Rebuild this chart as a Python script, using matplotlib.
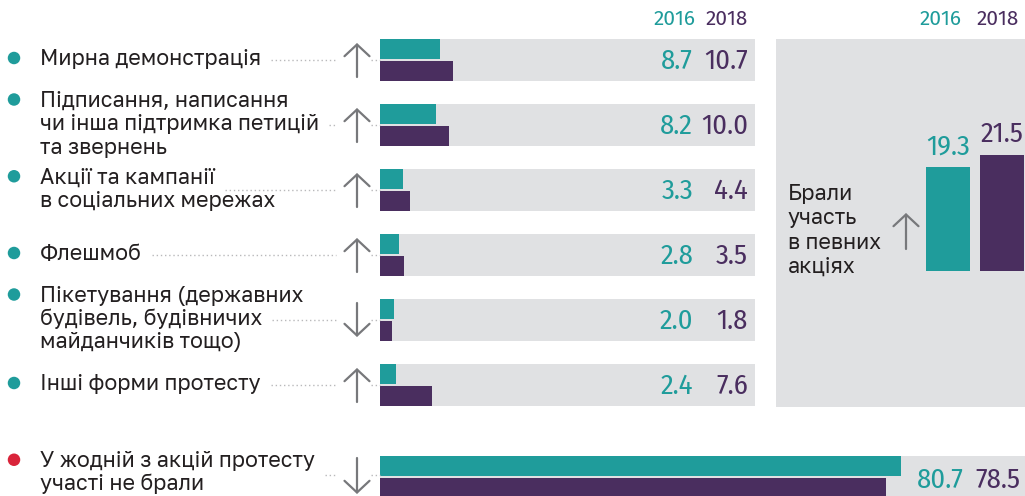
import matplotlib
matplotlib.use("Agg")
import matplotlib.pyplot as plt
from matplotlib.patches import FancyArrowPatch, Ellipse
from matplotlib.lines import Line2D

# ---- data -------------------------------------------------------------
years = ["2016", "2018"]
forms = [
    "Мирна демонстрація",
    "Підписання, написання\nчи інша підтримка петицій\nта звернень",
    "Акції та кампанії\nв соціальних мережах",
    "Флешмоб",
    "Пікетування (державних\nбудівель, будівничих\nмайданчиків тощо)",
    "Інші форми протесту",
]
share_2016 = [8.7, 8.2, 3.3, 2.8, 2.0, 2.4]
share_2018 = [10.7, 10.0, 4.4, 3.5, 1.8, 7.6]
trend = ["up", "up", "up", "up", "down", "up"]

none_label = "У жодній з акцій протесту\nучасті не брали"
none_2016 = [80.7]
none_2018 = [78.5]
none_trend = "down"

any_label = "Брали\nучасть\nв певних\nакціях"
any_values = [19.3, 21.5]
any_trend = "up"

# ---- style ------------------------------------------------------------
W, H, DPI = 1025, 496, 100
TEAL = "#1f9c9b"
PURPLE = "#4a2e5f"
BG = "#e0e1e3"
INK = "#231f20"
ARROW = "#77787b"
DOTS = "#b9b9bb"
RED = "#d9243a"

LABEL_FONT = dict(family=["Golos Text", "DejaVu Sans"], size=15.4, weight="medium", color=INK)
NUM_FONT = dict(family=["Fira Sans Condensed", "DejaVu Sans"], size=20.5)
YEAR_FONT = dict(family=["Fira Sans", "DejaVu Sans"], size=15)

fig = plt.figure(figsize=(W / DPI, H / DPI), dpi=DPI)
fig.patch.set_facecolor("white")


def fx(x):
    return x / W


def fy(y):
    return 1 - y / H


def px_axes(left, top, right, bottom):
    return fig.add_axes([fx(left), fy(bottom), (right - left) / W, (bottom - top) / H])


def arrow(x, yc, direction, half=17):
    y0, y1 = (yc + half, yc - half) if direction == "up" else (yc - half, yc + half)
    fig.add_artist(FancyArrowPatch(
        (fx(x), fy(y0)), (fx(x), fy(y1)), transform=fig.transFigure,
        arrowstyle="->,head_length=0.42,head_width=0.45", mutation_scale=20,
        color=ARROW, lw=1.6, shrinkA=0, shrinkB=0))


def leader(x0, y, gap=(336, 371), x_end=380):
    for a, b in ((x0, gap[0]), (gap[1], x_end)):
        if b > a:
            fig.add_artist(Line2D([fx(a), fx(b)], [fy(y), fy(y)], transform=fig.transFigure,
                                  color=DOTS, lw=1.0, linestyle=(0, (1, 2))))


def label_block(text, yc, bullet_color):
    lines = text.split("\n")
    n = len(lines)
    pitch = 23.5
    objs = []
    for k, line in enumerate(lines):
        base = yc - 2 + 7 + (k - (n - 1) / 2) * pitch
        objs.append(fig.text(fx(40), fy(base), line, ha="left", va="baseline", **LABEL_FONT))
    first_center = yc - 2 - (n - 1) / 2 * pitch
    fig.add_artist(Ellipse((fx(14), fy(first_center)), 12.5 / W, 12.5 / H,
                           transform=fig.transFigure, color=bullet_color, ec="none"))
    return objs


# ---- upper panel: forms of protest -------------------------------------
ROW0, PITCH = 60, 65
ax = px_axes(380, ROW0 - PITCH / 2, 755, ROW0 + PITCH * 5.5)
xmax = 375 / 6.85
ax.set_xlim(0, xmax)
ax.set_ylim(5.5, -0.5)
ax.axis("off")
rows = list(range(len(forms)))
bh = 0.308
ax.barh(rows, [xmax] * len(rows), height=0.646, color=BG, lw=0)
ax.barh([r - 0.169 for r in rows], share_2016, height=bh, color=TEAL, lw=0)
ax.barh([r + 0.169 for r in rows], share_2018, height=bh, color=PURPLE, lw=0)

leader_rows = []
dot_line_idx = [0, 1, 0, 0, 1, 0]
for i, (name, a, b, t) in enumerate(zip(forms, share_2016, share_2018, trend)):
    yc = ROW0 + PITCH * i
    objs = label_block(name, yc, TEAL)
    leader_rows.append((objs[dot_line_idx[i]], yc))
    arrow(357, yc, t)
    fig.text(fx(693), fy(yc + 1), f"{a:.1f}", ha="right", va="center", color=TEAL, **NUM_FONT)
    fig.text(fx(748), fy(yc + 1), f"{b:.1f}", ha="right", va="center", color=PURPLE, **NUM_FONT)

fig.text(fx(675), fy(19), years[0], ha="center", va="center", color=TEAL, **YEAR_FONT)
fig.text(fx(727), fy(19), years[1], ha="center", va="center", color=PURPLE, **YEAR_FONT)

# ---- bottom row: did not take part ---------------------------------------
YB = 477
axb = px_axes(380, YB - PITCH / 2, 1025, YB + PITCH / 2)
axb.set_xlim(0, 100)
axb.set_ylim(0.5, -0.5)
axb.axis("off")
axb.barh([0], [100], height=0.646, color=BG, lw=0)
axb.barh([-0.169], none_2016, height=bh, color=TEAL, lw=0)
axb.barh([0.169], none_2018, height=bh, color=PURPLE, lw=0)
objs = label_block(none_label, YB - 3.5, RED)
leader_rows.append((objs[0], YB - 2))
arrow(357, YB - 1, none_trend, half=18)
fig.text(fx(964), fy(YB + 3), f"{none_2016[0]:.1f}", ha="right", va="center", color=TEAL, **NUM_FONT)
fig.text(fx(1020), fy(YB + 3), f"{none_2018[0]:.1f}", ha="right", va="center", color=PURPLE, **NUM_FONT)

# ---- right panel: took part in some actions ------------------------------
axr = px_axes(776, 39, 1025, 407)
axr.set_facecolor(BG)
for s in axr.spines.values():
    s.set_visible(False)
axr.set_xticks([])
axr.set_yticks([])
axr.set_xlim((776 - 948) / 54, (1025 - 948) / 54)
scale = 5.4
axr.set_ylim(-(407 - 271) / scale, (271 - 39) / scale)
axr.bar([0, 1], any_values, width=44 / 54, color=[TEAL, PURPLE], lw=0)
for xpos, v, c in zip([0, 1], any_values, [TEAL, PURPLE]):
    axr.annotate(f"{v:.1f}", (xpos, v), xytext=(0, 5), textcoords="offset points",
                 ha="center", va="bottom", color=c, **NUM_FONT)
for k, line in enumerate(any_label.split("\n")):
    fig.text(fx(788), fy(200 + 24.3 * k), line, ha="left", va="baseline", **LABEL_FONT)
arrow(906, 231, any_trend, half=18)
fig.text(fx(941), fy(19), years[0], ha="center", va="center", color=TEAL, **YEAR_FONT)
fig.text(fx(998), fy(19), years[1], ha="center", va="center", color=PURPLE, **YEAR_FONT)

# ---- dotted leaders from label ends to the bars ----------------------------
fig.canvas.draw()
renderer = fig.canvas.get_renderer()
for txt, yc in leader_rows:
    bb = txt.get_window_extent(renderer)
    leader(bb.x1 + 10, yc)

fig.savefig("out.png", dpi=DPI, facecolor="white")
